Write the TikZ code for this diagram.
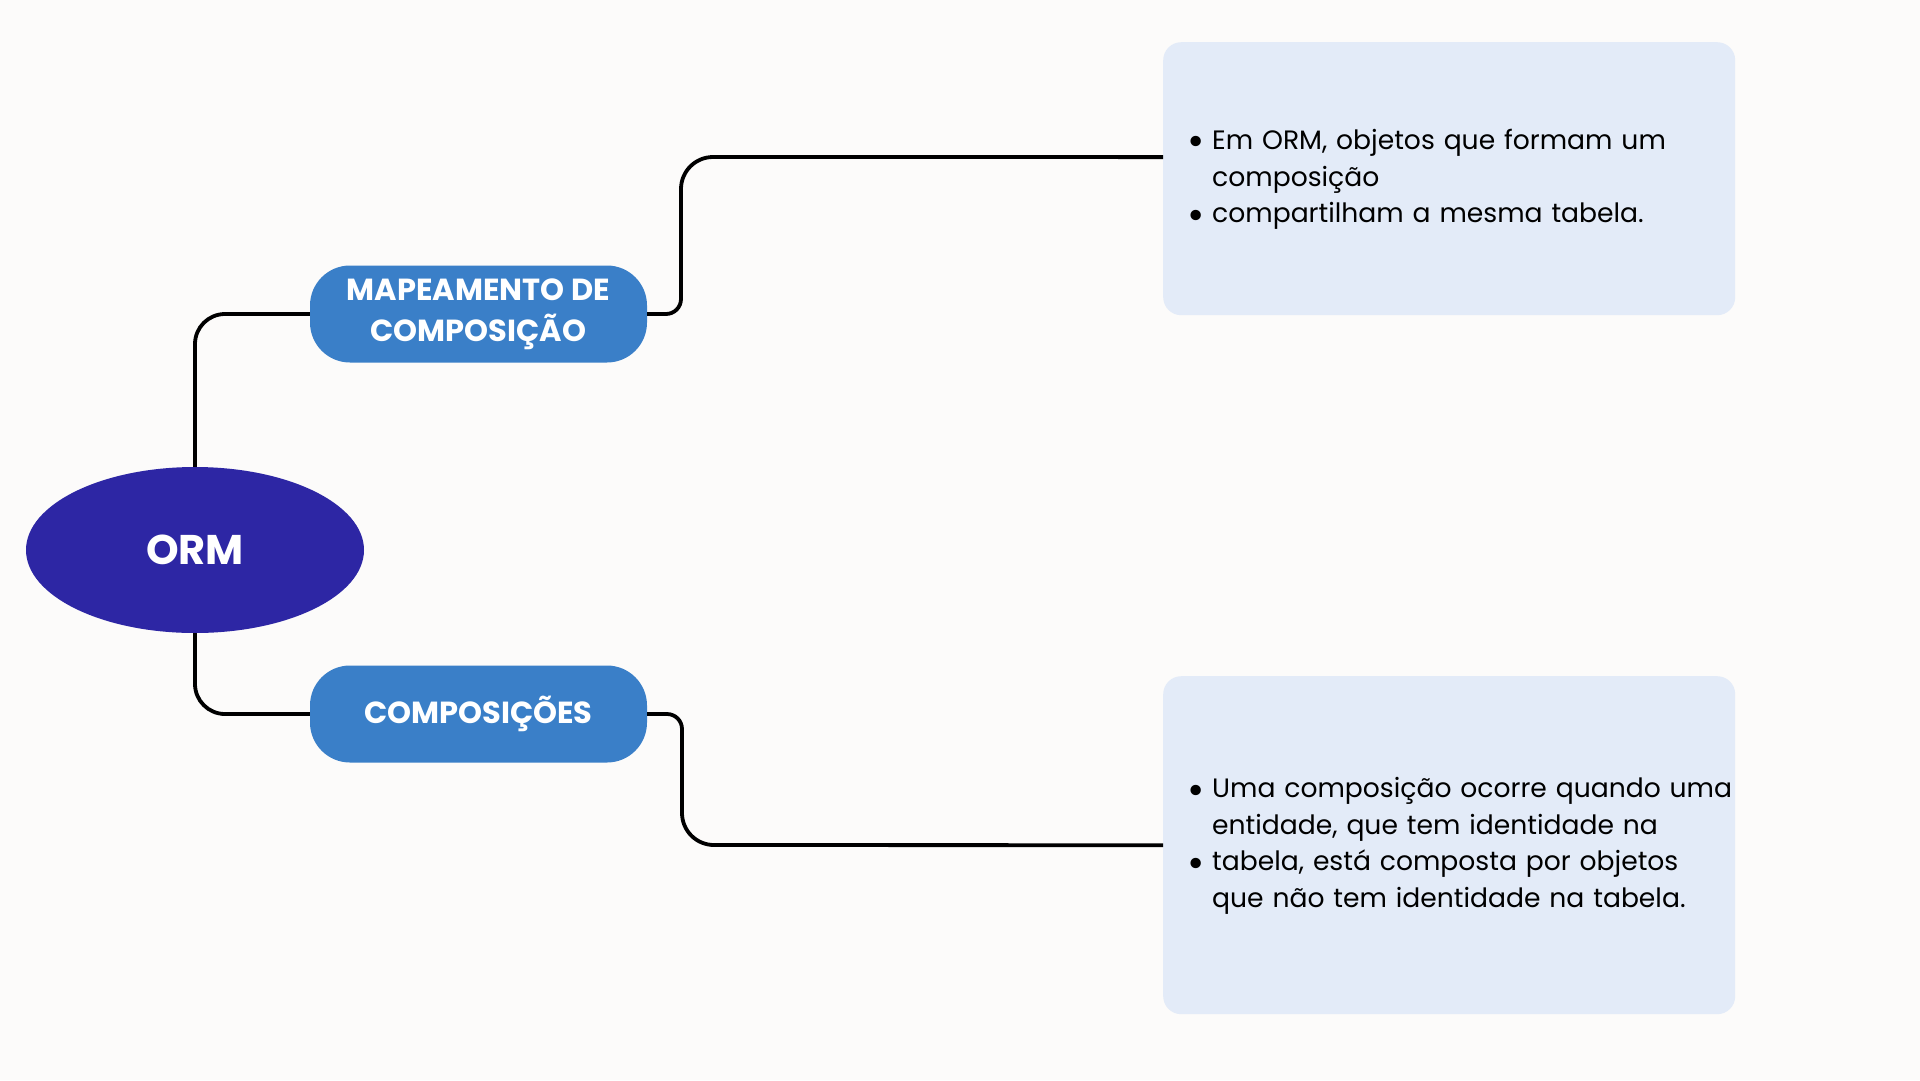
\documentclass[tikz,border=0pt]{standalone}
\usepackage{fontspec}
\setmainfont{Poppins}
\usetikzlibrary{shapes.geometric,calc}
\definecolor{bgc}{HTML}{FCFBFA}
\definecolor{ormc}{HTML}{2D26A4}
\definecolor{headc}{HTML}{3A7FC8}
\definecolor{infoc}{HTML}{E3EBF8}
\tikzset{
  conn/.style={draw=black, line width=3.8pt},
  rootnode/.style={ellipse, fill=ormc, text=white, minimum width=338pt, minimum height=166pt, inner sep=0pt,
    font=\bfseries\fontsize{41.5}{48}\selectfont},
  headbox/.style={rectangle, rounded corners=40pt, fill=headc, text=white, minimum width=337pt, minimum height=97pt,
    inner sep=0pt, align=center, font=\bfseries\fontsize{30.5}{41}\selectfont},
  infobox/.style={rectangle, rounded corners=18pt, fill=infoc, text=black, minimum width=572pt,
    text width=516pt, inner xsep=28pt, inner ysep=0pt, align=left, font=\fontsize{26.6}{36.7}\selectfont},
}
\newcommand{\blt}{\makebox[21pt][l]{\hspace{-4pt}\raisebox{-6.5pt}{\fontsize{42}{10}\selectfont •}}}
\begin{document}
\begin{tikzpicture}[x=1pt,y=-1pt]
\fill[bgc] (0,0) rectangle (1920,1080);
\useasboundingbox (0,0) rectangle (1920,1080);

\node[rootnode] (orm) at (195,550) {ORM};
\node[headbox] (map) at (478.5,314) {MAPEAMENTO DE\\COMPOSIÇÃO};
\node[headbox] (comp) at (478.5,714) {COMPOSIÇÕES};
\node[infobox, minimum height=273pt, anchor=north west] (tb) at (1163,42)
  {\begin{tabular}{@{}l@{}l@{}}\blt & Em ORM, objetos que formam um\\ & composição\\ \blt & compartilham a mesma tabela.\end{tabular}};
\node[infobox, minimum height=338pt, anchor=north west] (bb) at (1163,676)
  {\begin{tabular}{@{}l@{}l@{}}\blt & Uma composição ocorre quando uma\\ & entidade, que tem identidade na\\ \blt & tabela, está composta por objetos\\ & que não tem identidade na tabela.\end{tabular}};

\coordinate (tin) at ($(tb.north west)!0.421!(tb.south west)$);

\draw[conn, rounded corners=30pt] (orm.north) |- (map.west);
\draw[conn, rounded corners=30pt] (orm.south) |- (comp.west);
\draw[conn, rounded corners=15pt] (map.east) -- (681,314) [rounded corners=32pt] -- (681,157) -- (tin);
\draw[conn, rounded corners=15pt] (comp.east) -- (682,714) [rounded corners=32pt] -- (682,845) -- (bb.west);
\end{tikzpicture}
\end{document}
